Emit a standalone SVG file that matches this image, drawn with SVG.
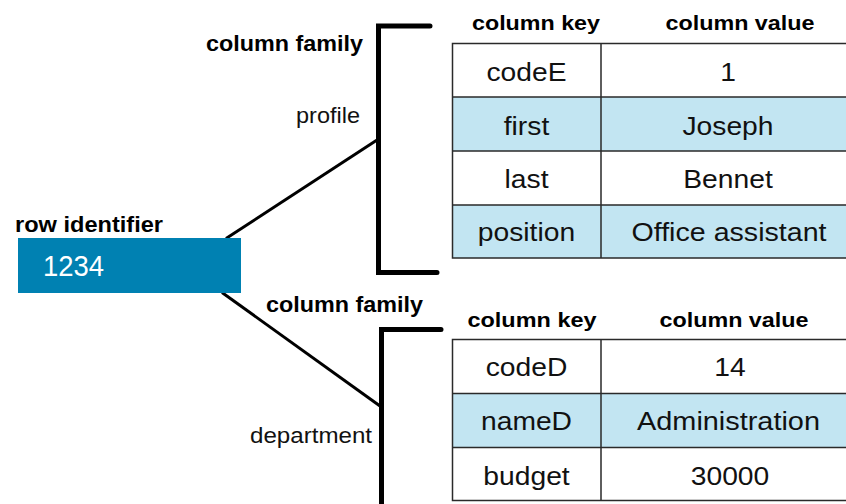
<svg xmlns="http://www.w3.org/2000/svg" width="846" height="504" viewBox="0 0 846 504">
  <style>
    .bold { font-family: "Liberation Sans", Arial, sans-serif; font-weight: bold; fill: #000; }
    .lbl { font-family: "Liberation Sans", Arial, sans-serif; font-size: 21.5px; fill: #111; }
    .hdr { font-family: "Liberation Sans", Arial, sans-serif; font-weight: bold; font-size: 20.5px; fill: #000; text-anchor: middle; }
    .cell { font-family: "Liberation Sans", Arial, sans-serif; font-size: 26px; fill: #111; text-anchor: middle; }
    .grid { fill: none; stroke: #2a2a2a; stroke-width: 1.5; }
    .white { fill: #ffffff; }
    .tint { fill: #c2e5f2; }
    .bracket { fill: none; stroke: #000; stroke-width: 5; stroke-linecap: round; stroke-linejoin: miter; }
    .link { stroke: #000; stroke-width: 3; fill: none; }
  </style>

  <rect width="846" height="504" fill="#ffffff"/>

  <!-- connectors from the row key to each column family -->
  <g id="connectors">
    <line class="link" x1="226" y1="238.5" x2="377" y2="140"/>
    <line class="link" x1="222" y1="292.5" x2="380" y2="406"/>
  </g>

  <!-- row identifier -->
  <g id="row-identifier">
    <text class="bold" x="15" y="232" font-size="21.5" textLength="148" lengthAdjust="spacingAndGlyphs">row identifier</text>
    <rect x="18" y="238" width="223" height="55" fill="#0081b2"/>
    <text x="43" y="276" font-family="Liberation Sans, Arial, sans-serif" font-size="29" fill="#ffffff" textLength="61" lengthAdjust="spacingAndGlyphs">1234</text>
  </g>

  <!-- column family: profile -->
  <g id="family-profile">
    <text class="bold" x="206" y="51" font-size="21.5" textLength="157" lengthAdjust="spacingAndGlyphs">column family</text>
    <text class="lbl" x="296" y="123" textLength="64" lengthAdjust="spacingAndGlyphs">profile</text>
    <path class="bracket" d="M430,26 H378.5 V272.5 H437"/>
  </g>

  <!-- profile table -->
  <g id="table-profile">
    <text class="hdr" x="536" y="30" textLength="128" lengthAdjust="spacingAndGlyphs">column key</text>
    <text class="hdr" x="740" y="30" textLength="149" lengthAdjust="spacingAndGlyphs">column value</text>
    <rect class="white" x="452.5" y="43.5" width="410" height="53.5"/>
    <rect class="tint" x="452.5" y="97" width="410" height="54"/>
    <rect class="white" x="452.5" y="151" width="410" height="54"/>
    <rect class="tint" x="452.5" y="205" width="410" height="53"/>
    <path class="grid" d="M862,43.5 H452.5 V258 H862 M452.5,97 H862 M452.5,151 H862 M452.5,205 H862 M601,43.5 V258"/>
    <text class="cell" x="526.5" y="81" textLength="80" lengthAdjust="spacingAndGlyphs">codeE</text>
    <text class="cell" x="728" y="81" textLength="15.7" lengthAdjust="spacingAndGlyphs">1</text>
    <text class="cell" x="526.5" y="134.5" textLength="45.5" lengthAdjust="spacingAndGlyphs">first</text>
    <text class="cell" x="728" y="134.5" textLength="91" lengthAdjust="spacingAndGlyphs">Joseph</text>
    <text class="cell" x="526.5" y="188" textLength="44" lengthAdjust="spacingAndGlyphs">last</text>
    <text class="cell" x="728" y="188" textLength="89.5" lengthAdjust="spacingAndGlyphs">Bennet</text>
    <text class="cell" x="526.5" y="241" textLength="97.3" lengthAdjust="spacingAndGlyphs">position</text>
    <text class="cell" x="729" y="241" textLength="195" lengthAdjust="spacingAndGlyphs">Office assistant</text>
  </g>

  <!-- column family: department -->
  <g id="family-department">
    <text class="bold" x="266" y="312" font-size="21.5" textLength="157" lengthAdjust="spacingAndGlyphs">column family</text>
    <text class="lbl" x="250" y="443" textLength="122" lengthAdjust="spacingAndGlyphs">department</text>
    <path class="bracket" d="M441,329.5 H381.5 V520"/>
  </g>

  <!-- department table -->
  <g id="table-department">
    <text class="hdr" x="532" y="327" textLength="129" lengthAdjust="spacingAndGlyphs">column key</text>
    <text class="hdr" x="734" y="327" textLength="149" lengthAdjust="spacingAndGlyphs">column value</text>
    <rect class="white" x="452.5" y="339.5" width="410" height="54"/>
    <rect class="tint" x="452.5" y="393.5" width="410" height="54"/>
    <rect class="white" x="452.5" y="447.5" width="410" height="53"/>
    <path class="grid" d="M862,339.5 H452.5 V500.5 H862 M452.5,393.5 H862 M452.5,447.5 H862 M601,339.5 V500.5"/>
    <text class="cell" x="526.5" y="376" textLength="81.6" lengthAdjust="spacingAndGlyphs">codeD</text>
    <text class="cell" x="730" y="376" textLength="31.4" lengthAdjust="spacingAndGlyphs">14</text>
    <text class="cell" x="526.5" y="430" textLength="91" lengthAdjust="spacingAndGlyphs">nameD</text>
    <text class="cell" x="728.5" y="430" textLength="183" lengthAdjust="spacingAndGlyphs">Administration</text>
    <text class="cell" x="526.5" y="484.5" textLength="86.4" lengthAdjust="spacingAndGlyphs">budget</text>
    <text class="cell" x="730" y="484.5" textLength="78.5" lengthAdjust="spacingAndGlyphs">30000</text>
  </g>
</svg>
